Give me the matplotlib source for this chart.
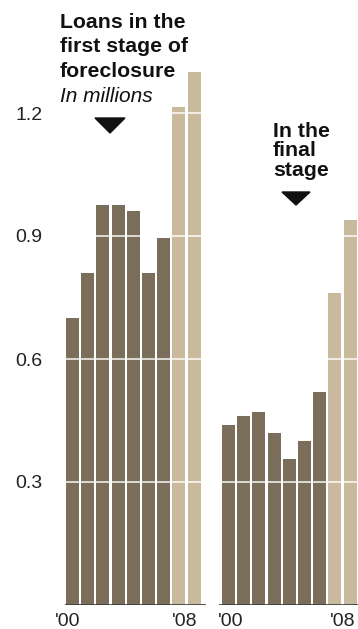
"""Foreclosure bar chart: first stage vs final stage, 2000-2008."""
import matplotlib
matplotlib.use("Agg")
import matplotlib.pyplot as plt
from matplotlib.patches import Polygon
from matplotlib.transforms import blended_transform_factory

years = list(range(2000, 2009))
first_stage = [0.70, 0.81, 0.975, 0.975, 0.96, 0.81, 0.895, 1.215, 1.30]
final_stage = [0.44, 0.46, 0.47, 0.42, 0.355, 0.40, 0.52, 0.76, 0.94]
light_years = [2007, 2008]
yticks = [0.3, 0.6, 0.9, 1.2]
ytick_labels = ["0.3", "0.6", "0.9", "1.2"]
left_title = ["Loans in the", "first stage of", "foreclosure"]
right_title = ["In the", "final", "stage"]

DARK = "#7a6d59"
LIGHT = "#c9b99d"
W, H = 358, 629


def px_axes(fig, left, bottom_px, width, height):
    # rectangle given in pixels from the top-left corner
    return fig.add_axes([left / W, (H - bottom_px) / H, width / W, height / H])


def draw_panel(ax, values, xlim):
    colors = [LIGHT if y in light_years else DARK for y in years]
    x = list(range(len(years)))
    ax.bar(x, values, width=0.85, color=colors, zorder=1)
    for t in yticks:
        ax.axhline(t, color="white", alpha=0.8, lw=1.3, zorder=2)
    ax.axhline(0, color="#3a3a3a", lw=1.2, zorder=3)
    ax.set_xlim(*xlim)
    ax.set_ylim(0, 1.45)
    ax.set_xticks([])
    ax.set_yticks([])
    for s in ax.spines.values():
        s.set_visible(False)
    ax.patch.set_alpha(0)


def main():
    plt.rcParams.update({"font.family": ["Liberation Sans", "DejaVu Sans"]})
    fig = plt.figure(figsize=(W / 100, H / 100), dpi=100)

    unit = 15.2
    left_ax = px_axes(fig, 72.5 - 0.5 * unit, 605, 9.25 * unit, 1.45 * 410)
    right_ax = px_axes(fig, 228.5 - 0.62 * unit, 605, 9.4 * unit, 1.45 * 410)
    draw_panel(left_ax, first_stage, (-0.5, 8.75))
    draw_panel(right_ax, final_stage, (-0.62, 8.78))

    # y tick labels
    left_ax.set_yticks(yticks)
    left_ax.set_yticklabels(ytick_labels, fontsize=14, color="#222222")
    left_ax.tick_params(axis="y", length=0, pad=16)

    # x labels
    for ax, positions in ((left_ax, (-1.15, 6.55)), (right_ax, (-0.69, 6.68))):
        tr = blended_transform_factory(ax.transData, ax.transAxes)
        for xpos, lab in zip(positions, ["'00", "'08"]):
            ax.text(xpos, -0.027, lab, transform=tr, ha="left", va="center",
                    fontsize=14, color="#222222", clip_on=False)

    # titles, one line at a time (baselines in pixels)
    for line, base in zip(left_title, (28, 52.5, 77)):
        fig.text(60 / W, 1 - base / H, line, ha="left", va="baseline",
                 fontsize=15.3, weight="bold", color="#111111")
    fig.text(60 / W, 1 - 102 / H, "In millions", ha="left", va="baseline",
             fontsize=15, style="italic", color="#111111")
    for line, base in zip(right_title, (137, 156.5, 176)):
        fig.text(273 / W, 1 - base / H, line, ha="left", va="baseline",
                 fontsize=15.3, weight="bold", color="#111111")

    # pointer triangles
    for cx, top, hw, h in ((110, 118, 15, 15), (296, 192, 14, 13)):
        tri = Polygon([((cx - hw) / W, 1 - top / H), ((cx + hw) / W, 1 - top / H),
                       (cx / W, 1 - (top + h) / H)],
                      closed=True, transform=fig.transFigure, color="#111111")
        fig.patches.append(tri)

    fig.savefig("out.png", dpi=100)
    plt.close(fig)


if __name__ == "__main__":
    main()
